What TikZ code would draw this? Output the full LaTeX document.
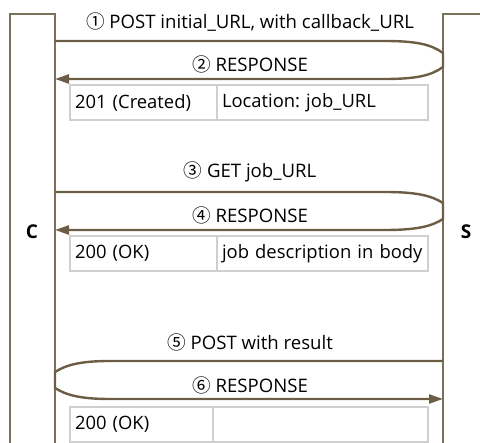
\documentclass[tikz,border=0pt]{standalone}
\usepackage{fontspec}
\setmainfont{Open Sans}
\newfontfamily\circfont{Noto Sans CJK SC}
\usetikzlibrary{arrows.meta,calc}

\newcommand{\stepno}[1]{{\circfont #1}}

\tikzset{
  lifeline/.style={draw=lineclr, line width=1.5pt, minimum width=45pt, minimum height=460pt,
                   anchor=north west, inner sep=0pt, outer sep=0pt},
  party/.style={font=\bfseries\fontsize{19}{22}\selectfont},
  msg/.style={draw=arrowclr, line width=2.4pt},
  msgtip/.style={-{Triangle[length=14pt,width=9pt]}},
  msglabel/.style={anchor=base, font=\fontsize{18.6}{22}\selectfont, inner sep=0pt},
  cell/.style={draw=cellclr, line width=1.4pt, minimum height=35pt, anchor=north west,
               inner xsep=5pt, inner ysep=0pt, outer sep=0pt, align=left,
               font=\fontsize{18.4}{22}\selectfont},
}
\definecolor{lineclr}{HTML}{7A705C}
\definecolor{arrowclr}{HTML}{6B5E45}
\definecolor{cellclr}{HTML}{CFCFCF}

\begin{document}
\frenchspacing
\begin{tikzpicture}[x=1pt, y=-1pt]
  \useasboundingbox (0,0) rectangle (480,443);

  % lifelines of client and server
  \node[lifeline] (C) at (10,14) {};
  \node[lifeline] (S) at (443,14) {};
  \node[party] (Clbl) at (32,232) {C};
  \node[party] (Slbl) at (466,232) {S};

  % exchange 1: POST with callback, 201 response
  \coordinate (a1) at (0,41);
  \coordinate (a2) at (0,79);
  \draw[msg, msgtip] (C.east |- a1) -- (385,41)
      .. controls (418,41) and (432,45) .. (S.west |- 0,53)
      -- (S.west |- 0,67)
      .. controls (432,75) and (418,79) .. (385,79) -- (C.east |- a2);
  \node[msglabel] (m1) at (250,29) {\stepno{①} POST initial\_URL, with callback\_URL};
  \node[msglabel] (m2) at (250,72) {\stepno{②} RESPONSE};
  \node[cell, text width=137pt] (t1a) at (70,85) {201 (Created)};
  \node[cell, text width=201pt] (t1b) at (t1a.north east) {Location: job\_URL};

  % exchange 2: GET job, 200 response
  \coordinate (b1) at (0,192);
  \coordinate (b2) at (0,230);
  \draw[msg, msgtip] (C.east |- b1) -- (385,192)
      .. controls (418,192) and (432,196) .. (S.west |- 0,203)
      -- (S.west |- 0,219)
      .. controls (432,226) and (418,230) .. (385,230) -- (C.east |- b2);
  \node[msglabel] (m3) at (250,178) {\stepno{③} GET job\_URL};
  \node[msglabel] (m4) at (250,223) {\stepno{④} RESPONSE};
  \node[cell, text width=137pt] (t2a) at (70,236) {200 (OK)};
  \node[cell, text width=201pt] (t2b) at (t2a.north east) {job description in body};

  % exchange 3: callback POST from server, response from client
  \coordinate (c1) at (0,361);
  \coordinate (c2) at (0,399);
  \draw[msg, msgtip] (S.west |- c1) -- (110,361)
      .. controls (80,361) and (66,365) .. (C.east |- 0,372)
      -- (C.east |- 0,388)
      .. controls (66,395) and (80,399) .. (110,399) -- (S.west |- c2);
  \node[msglabel] (m5) at (250,350) {\stepno{⑤} POST with result};
  \node[msglabel] (m6) at (250,393) {\stepno{⑥} RESPONSE};
  \node[cell, text width=133pt] (t3a) at (70,407) {200 (OK)};
  \node[cell, text width=205pt] (t3b) at (t3a.north east) {};
\end{tikzpicture}
\end{document}
